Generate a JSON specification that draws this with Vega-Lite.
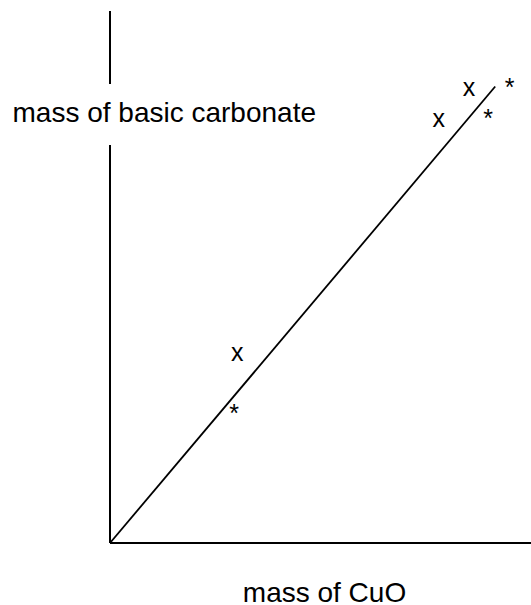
{
  "$schema": "https://vega.github.io/schema/vega-lite/v6.json",
  "width": 421,
  "height": 532,
  "autosize": {"type": "none"},
  "padding": {"left": 110, "top": 11, "right": 0, "bottom": 62},
  "background": "white",
  "config": {"view": {"stroke": null}, "font": "Liberation Sans"},
  "datasets": {
    "axes": [
      {"part": "x-axis", "cuo": 0, "carbonate": 0, "cuo2": 100, "carbonate2": 0},
      {"part": "y-axis lower", "cuo": 0, "carbonate": 0, "cuo2": 0, "carbonate2": 74.8},
      {"part": "y-axis upper", "cuo": 0, "carbonate": 86.3, "cuo2": 0, "carbonate2": 100}
    ],
    "fit": [
      {"cuo": 0, "carbonate": 0},
      {"cuo": 91.5, "carbonate": 85.8}
    ],
    "points": [
      {"sample": "x", "cuo": 30.2, "carbonate": 35.5},
      {"sample": "x", "cuo": 78.1, "carbonate": 79.5},
      {"sample": "x", "cuo": 85.3, "carbonate": 85.2},
      {"sample": "*", "cuo": 29.5, "carbonate": 25.5},
      {"sample": "*", "cuo": 89.8, "carbonate": 80.9},
      {"sample": "*", "cuo": 94.9, "carbonate": 86.7}
    ]
  },
  "encoding": {
    "x": {
      "field": "cuo",
      "type": "quantitative",
      "scale": {"domain": [0, 100], "nice": false, "zero": false},
      "axis": {
        "title": "mass of CuO",
        "domain": false, "ticks": false, "labels": false, "grid": false,
        "titleFont": "Liberation Sans", "titleFontSize": 28, "titleFontWeight": "normal",
        "titleColor": "black", "titleAlign": "center", "titleBaseline": "alphabetic",
        "titleX": 214, "titleY": 58.5
      }
    },
    "y": {
      "field": "carbonate",
      "type": "quantitative",
      "scale": {"domain": [0, 100], "nice": false, "zero": false},
      "axis": {
        "title": "mass of basic carbonate",
        "domain": false, "ticks": false, "labels": false, "grid": false,
        "titleFont": "Liberation Sans", "titleFontSize": 28, "titleFontWeight": "normal",
        "titleColor": "black", "titleAngle": 0, "titleAlign": "left", "titleBaseline": "alphabetic",
        "titleX": -98, "titleY": 110.7
      }
    }
  },
  "layer": [
    {
      "data": {"name": "axes"},
      "mark": {"type": "rule", "color": "black", "strokeWidth": 2},
      "encoding": {
        "x2": {"field": "cuo2"},
        "y2": {"field": "carbonate2"}
      }
    },
    {
      "data": {"name": "fit"},
      "mark": {"type": "line", "color": "black", "strokeWidth": 1.8},
      "encoding": {}
    },
    {
      "data": {"name": "points"},
      "transform": [{"filter": "datum.sample === 'x'"}],
      "mark": {"type": "text", "font": "Liberation Sans", "fontSize": 25, "color": "black", "align": "center", "baseline": "alphabetic", "dy": 6.6},
      "encoding": {"text": {"field": "sample"}}
    },
    {
      "data": {"name": "points"},
      "transform": [{"filter": "datum.sample === '*'"}],
      "mark": {"type": "text", "font": "Liberation Sans", "fontSize": 25, "color": "black", "align": "center", "baseline": "alphabetic", "dy": 14.4},
      "encoding": {"text": {"field": "sample"}}
    }
  ]
}
